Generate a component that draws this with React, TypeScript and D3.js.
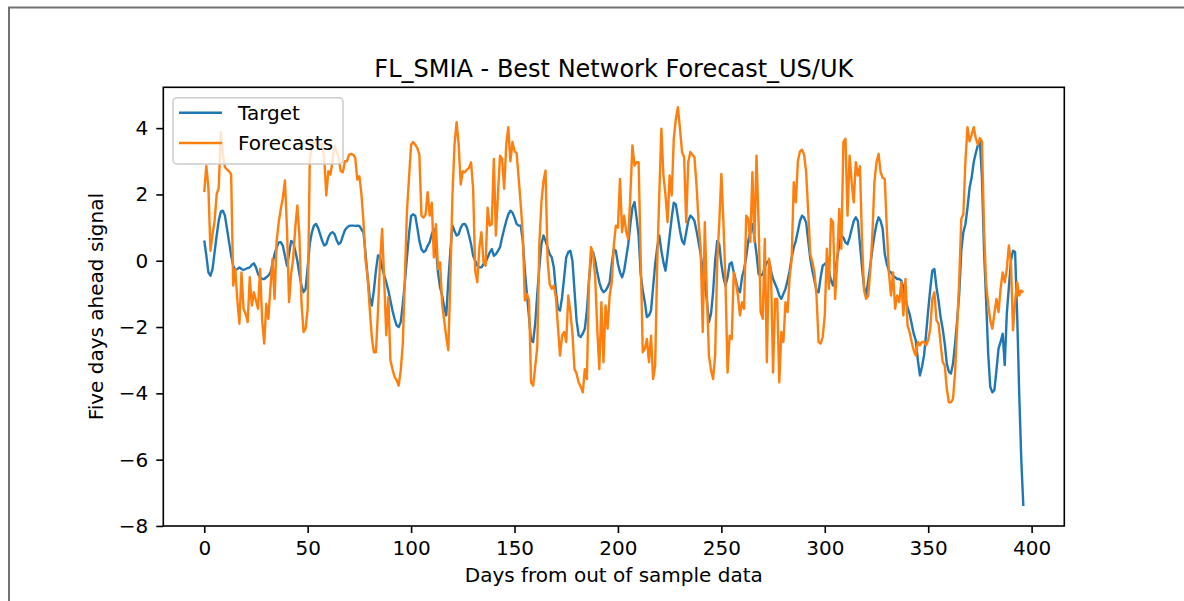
import React, { useEffect, useRef } from "react";
import * as d3 from "d3";

// days 0..396, one value per day
const target: number[] = [
  0.61, 0.16, -0.35, -0.45, -0.25, 0.26, 0.76, 1.21, 1.48, 1.51,
  1.36, 0.96, 0.56, 0.16, -0.15, -0.27, -0.25, -0.2, -0.25, -0.28,
  -0.25, -0.22, -0.2, -0.12, -0.08, -0.2, -0.4, -0.5, -0.55, -0.55,
  -0.5, -0.45, -0.35, -0.1, 0.2, 0.4, 0.55, 0.56, 0.45, 0.15,
  -0.15, 0.2, 0.6, 0.55, 0.3, 0.0, -0.4, -0.75, -0.95, -0.85,
  -0.2, 0.5, 0.85, 1.05, 1.11, 1.0, 0.8, 0.6, 0.46, 0.5,
  0.7, 0.82, 0.86, 0.8, 0.62, 0.5, 0.55, 0.75, 0.92, 1.0,
  1.05, 1.06, 1.06, 1.05, 1.06, 1.05, 0.95, 0.85, 0.2, -0.5,
  -1.1, -1.35, -0.9, -0.3, 0.16, 0.1, -0.2, -0.45, -0.65, -0.9,
  -1.2, -1.5, -1.75, -1.95, -2.0, -1.85, -1.3, -0.65, 0.1, 0.8,
  1.35, 1.4, 1.36, 1.0, 0.6, 0.35, 0.26, 0.3, 0.45, 0.56,
  0.8, 0.96, 0.4, -0.35, -0.8, -1.05, -1.4, -1.65, -0.6, 0.3,
  1.06, 0.9, 0.76, 0.8, 1.0, 1.1, 1.11, 1.0, 0.76, 0.5,
  0.15, 0.0, -0.15, -0.2, -0.2, -0.1, -0.05, 0.1, 0.25, 0.35,
  0.15, 0.2, 0.3, 0.41, 0.7, 0.96, 1.2, 1.4, 1.51, 1.45,
  1.3, 1.11, 1.06, 1.06, 0.6, -0.3, -1.0, -1.7, -2.4, -2.45,
  -1.9, -1.0, -0.2, 0.5, 0.76, 0.6, 0.4, 0.2, 0.1, -0.2,
  -0.9, -1.45, -1.5, -1.1, -0.5, 0.1, 0.26, 0.3, 0.0, -0.9,
  -1.8, -2.25, -2.3, -2.2, -2.05, -1.5, -0.6, 0.1, 0.26, 0.0,
  -0.35, -0.65, -0.85, -0.95, -0.9, -0.8, -0.65, -0.1, 0.35, 0.3,
  -0.1, -0.35, -0.5, -0.3, 0.1, 0.5, 1.1, 1.6, 1.77, 1.3,
  0.76, -0.4, -0.9, -1.25, -1.7, -1.65, -1.5, -0.8, -0.1, 0.4,
  0.76, 0.3, -0.05, -0.3, 0.2, 0.76, 1.3, 1.75, 1.7, 1.3,
  0.9, 0.6, 0.5, 0.85, 1.2, 1.36, 1.3, 1.2, 0.9, 0.56,
  0.2, -0.3, -0.65, -1.2, -1.85, -1.6, -0.95, 0.0, 0.6, 0.5,
  -0.1, -0.5, -0.75, -0.5, -0.1, -0.05, -0.35, -0.6, -0.85, -0.95,
  -0.5, -0.25, 0.1, 0.6, 0.86, 1.1, 0.7, 0.2, -0.4, -0.45,
  -0.4, -0.2, -0.05, 0.0, -0.3, -0.55, -0.7, -0.85, -1.05, -1.15,
  -1.0, -0.85, -0.6, -0.3, 0.1, 0.4, 0.6, 0.9, 1.2, 1.36,
  1.3, 1.15, 0.6, 0.06, -0.3, -0.6, -0.9, -0.95, -0.5, -0.15,
  -0.1, -0.05, -0.3, -0.6, -0.75, -0.3, 0.06, 0.5, 0.76, 0.7,
  0.55, 0.5, 0.7, 0.95, 1.2, 1.31, 1.2, 0.5, -0.2, -0.8,
  -1.05, -0.6, -0.15, 0.35, 0.76, 1.1, 1.31, 1.2, 0.96, 0.2,
  -0.1, -0.3, -0.35, -0.45, -0.5, -0.55, -0.55, -0.6, -0.8, -1.15,
  -1.4, -1.6, -1.9, -2.2, -2.4, -3.0, -3.46, -3.2, -2.85, -2.2,
  -1.5, -0.85, -0.3, -0.25, -0.8, -1.2, -1.7, -2.05, -2.5, -3.1,
  -3.35, -3.4, -3.1, -2.5, -1.8, -1.0, 0.3, 0.86, 1.1, 1.6,
  2.2, 2.5, 2.97, 3.25, 3.48, 3.6, 2.5, 0.3, -1.2, -2.8,
  -3.8, -3.97, -3.9, -3.3, -2.65, -2.45, -2.2, -3.15, -1.6, -0.8,
  0.0, 0.3, 0.27, -1.6, -4.0, -6.0, -7.4,
];

const forecasts: number[] = [
  2.07, 2.87, 2.2, 0.3, 0.8, 1.2, 2.0, 2.2, 3.88, 3.2,
  2.82, 2.75, 2.7, 2.6, -0.75, -0.25, -1.2, -1.9, -0.35, -1.45,
  -1.6, -1.85, -0.5, -1.35, -0.95, -1.2, -1.45, -0.25, -1.8, -2.5,
  -1.3, -1.75, -0.8, 0.06, -1.15, 0.6, 1.16, 1.56, 1.9, 2.42,
  0.96, -1.25, -0.4, 0.06, 1.0, 1.67, 0.76, -1.25, -2.15, -2.05,
  -1.45, 2.97, 3.58, 3.55, 3.6, 3.55, 3.5, 3.52, 3.1, 1.97,
  2.7, 2.6, 3.0, 3.48, 3.3, 3.1, 2.7, 2.67, 3.0, 3.0,
  3.2, 3.22, 3.2, 3.1, 2.45, 2.55, 2.0, 1.15, 0.0, -0.5,
  -1.45, -2.3, -2.76, -2.76, -1.5, 0.0, 0.96, -0.6, -2.25, -1.1,
  -3.0, -3.27, -3.5, -3.6, -3.77, -3.3, -2.5, -0.5, 1.5, 2.5,
  3.5, 3.58, 3.5, 3.4, 3.2, 1.36, 1.3, 1.4, 2.07, 1.36,
  1.75, 0.1, 1.1, -0.25, -0.05, -1.3, -1.8, -2.3, -2.7, -0.5,
  2.0, 3.5, 4.18, 3.5, 2.3, 2.7, 2.67, 2.75, 2.8, 2.97,
  2.15, -0.3, -0.65, 0.4, 0.86, -0.04, -0.15, 1.6, 1.06, 1.1,
  3.07, 0.76, 2.0, 3.17, 3.07, 2.17, 3.5, 4.03, 3.0, 3.58,
  3.3, 3.25, 2.5, 1.7, 0.8, -1.2, -1.0, -1.2, -3.67, -3.77,
  -3.2, -2.6, 0.5, 1.76, 2.4, 2.72, 0.0, -0.7, -0.85, -0.75,
  -1.1, -2.0, -2.86, -2.25, -2.15, -2.45, -1.05, -1.55, -2.2, -3.27,
  -3.4, -3.67, -3.8, -3.97, -3.27, -3.57, -0.65, 0.41, 0.2, -0.5,
  -2.05, -3.27, -1.25, -3.06, -1.35, -2.05, -1.05, -0.65, 0.46, 1.06,
  1.0, 2.47, 0.86, 1.36, 0.86, 0.66, 1.97, 3.48, 2.87, 2.97,
  2.97, 0.06, -2.76, -2.66, -2.36, -3.06, -2.26, -3.57, -3.16, -0.04,
  2.0, 3.98, 2.57, 1.97, 1.16, 2.57, 1.97, 3.68, 4.28, 4.63,
  3.98, 3.28, 3.12, 1.16, 2.97, 3.28, 3.2, 3.12, 2.27, 1.16,
  0.36, -2.15, 1.16, -1.05, -2.86, -3.3, -3.57, -2.86, -0.04, 1.16,
  2.62, 1.16, -0.65, -3.37, -2.26, -2.36, -0.35, -0.65, -1.05, -1.65,
  -1.25, -1.45, 1.36, 1.26, 0.56, 2.67, 0.56, 3.17, 1.16, -1.55,
  -1.75, 0.66, -3.06, 0.06, -0.35, -3.37, -1.15, -1.15, -3.67, -2.15,
  -2.45, -1.25, -1.55, -0.5, 0.06, 2.37, 1.76, 3.0, 3.3, 3.35,
  3.2, 2.67, 1.46, 0.2, -0.04, -0.35, -1.05, -2.45, -2.5, -2.3,
  -1.65, 0.36, -0.85, 1.26, 1.16, -1.15, -0.04, 1.56, 0.36, 3.58,
  3.68, 1.36, 3.17, 2.37, 1.76, 2.97, 2.57, 2.85, 0.6, -0.9,
  -1.15, -1.05, -0.3, 0.76, 2.37, 2.97, 3.22, 2.67, 2.5, 2.47,
  0.96, -0.35, -1.05, -0.35, -1.45, -1.05, -1.25, -0.65, -1.65, -0.55,
  -1.95, -2.15, -2.45, -2.7, -2.86, -2.45, -2.55, -2.45, -2.45, -2.55,
  -2.4, -2.05, -1.15, -0.95, -1.8, -1.9, -2.5, -3.06, -3.16, -3.87,
  -4.27, -4.27, -4.17, -3.36, -2.0, -0.6, 1.26, 1.4, 3.0, 4.03,
  3.6, 3.8, 4.03, 3.7, 3.5, 3.7, 3.6, 0.96, -0.7, -1.3,
  -1.8, -2.05, -1.6, -1.15, -1.55, -0.85, -0.35, -0.65, -0.25, 0.46,
  -0.05, -2.1, -1.25, -0.65, -1.05, -0.9, -0.95,
];

const seriesNames = ["Target", "Forecasts"];
const seriesColors = ["#1f77b4", "#ff7f0e"];
const xTicks = [0, 50, 100, 150, 200, 250, 300, 350, 400];
const yTicks = [-8, -6, -4, -2, 0, 2, 4];

const titleText = "FL_SMIA - Best Network Forecast_US/UK";
const xLabelText = "Days from out of sample data";
const yLabelText = "Five days ahead signal";

function App() {
  const svgRef = useRef<SVGSVGElement>(null);

  const width = 1184;
  const height = 601;
  const plot = { left: 163.3, right: 1064.3, top: 87.3, bottom: 526 };
  const font = "DejaVu Sans, sans-serif";

  useEffect(() => {
    const svg = d3.select(svgRef.current);
    svg.selectAll("*").remove();

    svg.append("rect").attr("width", width).attr("height", height).attr("fill", "#fff");

    // outer frame (only top and left edges visible)
    svg
      .append("path")
      .attr("d", "M9,601 V7.5 H1184")
      .attr("fill", "none")
      .attr("stroke", "#727272")
      .attr("stroke-width", 2);

    const n = target.length;
    const days = d3.range(n);
    const xPad = (n - 1) * 0.05;
    const x = d3
      .scaleLinear()
      .domain([-xPad, n - 1 + xPad])
      .range([plot.left, plot.right]);

    const all = target.concat(forecasts);
    const lo = d3.min(all) as number;
    const hi = d3.max(all) as number;
    const yPad = (hi - lo) * 0.05;
    const y = d3
      .scaleLinear()
      .domain([lo - yPad, hi + yPad])
      .range([plot.bottom, plot.top]);

    const series = [target, forecasts];
    const line = d3
      .line<number>()
      .x((d, i) => x(days[i]))
      .y((d) => y(d));

    series.forEach((s, k) => {
      svg
        .append("path")
        .attr("d", line(s))
        .attr("fill", "none")
        .attr("stroke", seriesColors[k])
        .attr("stroke-width", 2.4)
        .attr("stroke-linejoin", "round");
    });

    // axes
    const xAxis = svg
      .append("g")
      .attr("transform", "translate(0," + plot.bottom + ")")
      .call(d3.axisBottom(x).tickValues(xTicks).tickSize(7).tickPadding(8).tickFormat(d3.format("d")));
    const yAxis = svg
      .append("g")
      .attr("transform", "translate(" + plot.left + ",0)")
      .call(d3.axisLeft(y).tickValues(yTicks).tickSize(7).tickPadding(8).tickFormat(d3.format("d")));

    [xAxis, yAxis].forEach((g) => {
      g.select(".domain").remove();
      g.selectAll(".tick line").attr("stroke", "#000").attr("stroke-width", 1.6);
      g.selectAll(".tick text")
        .attr("fill", "#000")
        .style("font-family", font)
        .style("font-size", "20px");
    });

    svg
      .append("rect")
      .attr("x", plot.left)
      .attr("y", plot.top)
      .attr("width", plot.right - plot.left)
      .attr("height", plot.bottom - plot.top)
      .attr("fill", "none")
      .attr("stroke", "#000")
      .attr("stroke-width", 1.6);

    // title and labels
    svg
      .append("text")
      .attr("x", (plot.left + plot.right) / 2)
      .attr("y", 77)
      .attr("text-anchor", "middle")
      .style("font-family", font)
      .style("font-size", "24px")
      .attr("fill", "#000")
      .text(titleText);

    svg
      .append("text")
      .attr("x", (plot.left + plot.right) / 2)
      .attr("y", 582)
      .attr("text-anchor", "middle")
      .style("font-family", font)
      .style("font-size", "20px")
      .attr("fill", "#000")
      .text(xLabelText);

    svg
      .append("text")
      .attr("transform", "translate(103," + (plot.top + plot.bottom) / 2 + ") rotate(-90)")
      .attr("text-anchor", "middle")
      .style("font-family", font)
      .style("font-size", "20px")
      .attr("fill", "#000")
      .text(yLabelText);

    // legend
    const legend = svg.append("g");
    legend
      .append("rect")
      .attr("x", 173)
      .attr("y", 97.7)
      .attr("width", 170)
      .attr("height", 66.3)
      .attr("rx", 4)
      .attr("fill", "#fff")
      .attr("fill-opacity", 0.8)
      .attr("stroke", "#cccccc")
      .attr("stroke-width", 1.5);

    seriesNames.forEach((name, k) => {
      const ly = 112.7 + k * 30.3;
      legend
        .append("line")
        .attr("x1", 179)
        .attr("x2", 222)
        .attr("y1", ly)
        .attr("y2", ly)
        .attr("stroke", seriesColors[k])
        .attr("stroke-width", 2.4);
      legend
        .append("text")
        .attr("x", 238)
        .attr("y", ly)
        .attr("dy", "0.36em")
        .style("font-family", font)
        .style("font-size", "20px")
        .attr("fill", "#000")
        .text(name);
    });
  }, []);

  return (
    <svg
      ref={svgRef}
      width={width}
      height={height}
      style={{ position: "absolute", left: 0, top: 0 }}
    ></svg>
  );
}

export default App;
